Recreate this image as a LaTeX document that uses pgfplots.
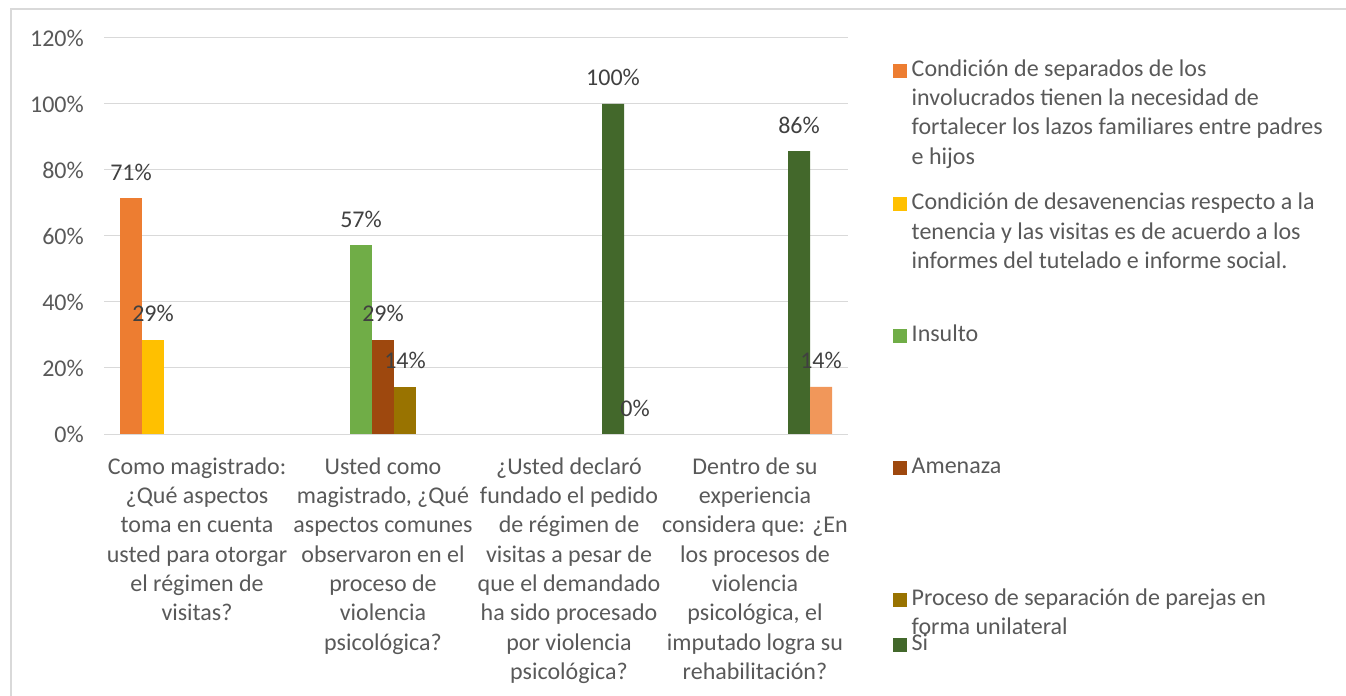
\documentclass[border=0pt]{standalone}
\usepackage{pgfplots}
\pgfplotsset{compat=1.18}
\usepackage{fontspec}
\setmainfont{Carlito}
\definecolor{c1}{HTML}{ED7D31}
\definecolor{c2}{HTML}{FFC000}
\definecolor{c3}{HTML}{70AD47}
\definecolor{c4}{HTML}{9E480E}
\definecolor{c5}{HTML}{997300}
\definecolor{c6}{HTML}{43682B}
\definecolor{c7}{HTML}{F1975A}
\definecolor{gridc}{HTML}{D9D9D9}
\definecolor{txt}{HTML}{595959}
\definecolor{lbl}{HTML}{404040}
\newcommand{\ff}{\fontsize{24bp}{29.3bp}\selectfont}
\newcommand{\legtxt}[2]{\parbox[t]{440bp}{\raggedright\rule{0pt}{#1}#2}}
\begin{document}
\begin{tikzpicture}
\begin{axis}[
  at={(104bp,262bp)}, anchor=south west,
  scale only axis, width=744bp, height=396bp,
  ymin=0, ymax=120, ytick={0,20,...,120},
  xmin=-0.5, xmax=3.5, xtick={0,1,2,3},
  /pgf/number format/assume math mode=true,
  yticklabel={\pgfmathprintnumber{\tick}\%},
  xticklabels={
    {Como magistrado:\\¿Qué aspectos\\toma en cuenta\\usted para otorgar\\el régimen de\\visitas?},
    {Usted como\\magistrado, ¿Qué\\aspectos comunes\\observaron en el\\proceso de\\violencia\\psicológica?},
    {¿Usted declaró\\fundado el pedido\\de régimen de\\visitas a pesar de\\que el demandado\\ha sido procesado\\por violencia\\psicológica?},
    {Dentro de su\\experiencia\\considera que: ¿En\\los procesos de\\violencia\\psicológica, el\\imputado logra su\\rehabilitación?}},
  xticklabel style={align=center, font=\ff, text=txt, inner sep=0pt, anchor=north, yshift=-23.5bp},
  yticklabel style={font=\ff, text=txt, inner sep=0pt, anchor=east, xshift=-20bp},
  major tick length=0pt,
  axis line style={draw=none},
  ymajorgrids, grid style={gridc, line width=1bp},
  ybar=0pt, bar width=22bp,
  nodes near coords={\pgfmathprintnumber[fixed,precision=0]{\pgfplotspointmeta}\%},
  every node near coord/.append style={font=\ff, text=lbl, anchor=base, inner sep=0pt, yshift=18bp},
  legend style={at={(rel axis cs:1,1)}, anchor=north west, xshift=45bp, yshift=-17.5bp,
    draw=none, fill=none, inner sep=0pt, row sep=0pt, column sep=5bp,
    font=\ff, text=txt, cells={anchor=base west}, nodes={inner sep=0pt}},
  legend image code/.code={\fill[#1] (0bp,-1.5bp) rectangle (13.5bp,12.5bp);},
]
\addplot[fill=c1, draw=none] coordinates {(0,71.43)};
\addlegendentry{\legtxt{20.5bp}{Condición de separados de los\\involucrados tienen la necesidad de\\fortalecer los lazos familiares entre padres\\e hijos}}
\addplot[fill=c2, draw=none] coordinates {(0,28.57)};
\addlegendentry{\legtxt{132bp}{Condición de desavenencias respecto a la\\tenencia y las visitas es de acuerdo a los\\informes del tutelado e informe social.}}
\addplot[fill=c3, draw=none] coordinates {(1,57.14)};
\addlegendentry{\legtxt{130bp}{Insulto}}
\addplot[fill=c4, draw=none] coordinates {(1,28.57)};
\addlegendentry{\legtxt{131bp}{Amenaza}}
\addplot[fill=c5, draw=none] coordinates {(1,14.29)};
\addlegendentry{\legtxt{130bp}{Proceso de separación de parejas en\\forma unilateral}}
\addplot[fill=c6, draw=none] coordinates {(2,100) (3,85.71)};
\addlegendentry{\legtxt{44bp}{Si}}
\addplot[fill=c7, draw=none] coordinates {(2,0) (3,14.29)};
\end{axis}
\draw[gridc, line width=1.5bp] (11bp,0bp) -- (11bp,687bp) -- (1346bp,687bp);
\pgfresetboundingbox
\path[use as bounding box] (0,0) rectangle (1346bp,696bp);
\end{tikzpicture}
\end{document}
